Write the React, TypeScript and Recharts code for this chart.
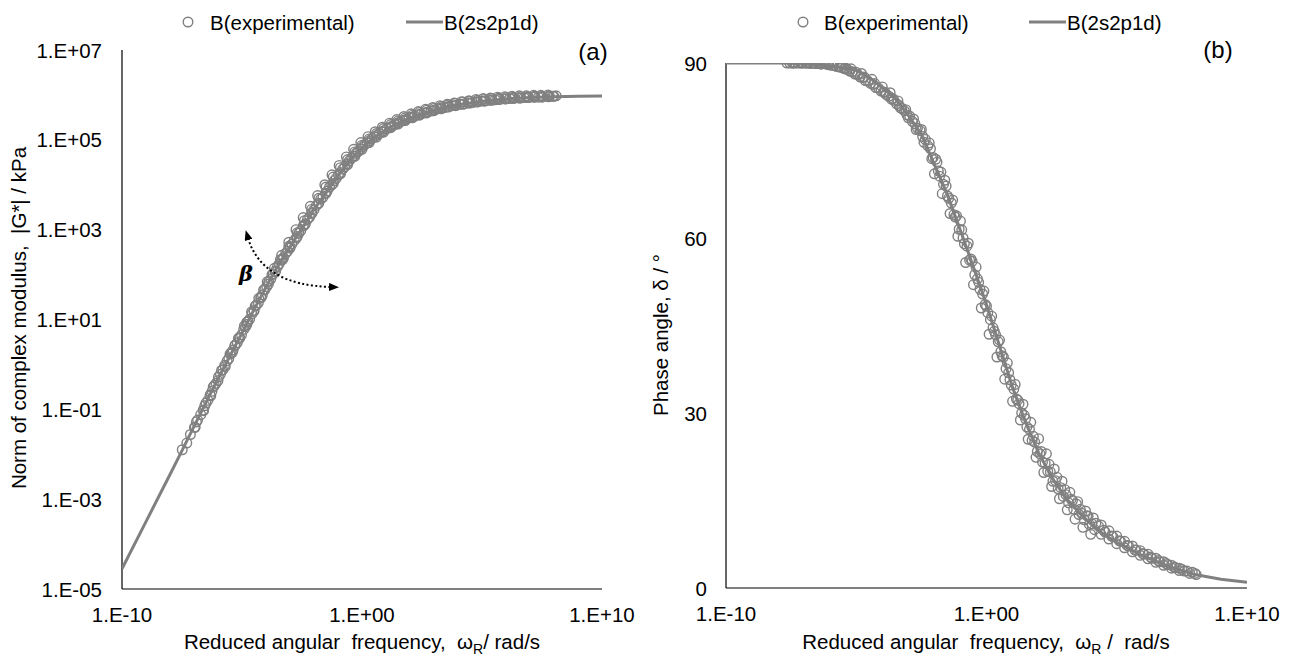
import React from 'react';
import { ScatterChart, Scatter, XAxis, YAxis } from 'recharts';

const FONT = '"Liberation Sans", Arial, sans-serif';
const GREY = '#808080';
const INK = '#000000';
const FS = 20.5;

// ---------- tick positions / labels (axes carry log10 values for log axes) ----------
const freqTicks = [-10, 0, 10];
const freqTickLabels = ['1.E-10', '1.E+00', '1.E+10'];
const modulusTicks = [-5, -3, -1, 1, 3, 5, 7];
const modulusTickLabels = ['1.E-05', '1.E-03', '1.E-01', '1.E+01', '1.E+03', '1.E+05', '1.E+07'];
const phaseTicks = [0, 30, 60, 90];
const phaseTickLabels = ['0', '30', '60', '90'];

// ---------- (a) |G*| : [log10 omega_R, log10 |G*| (kPa)] ----------
const modulusModel: [number, number][] = [
  [-10, -4.55], [-9, -3.5], [-8, -2.45], [-7.5, -1.92], [-7, -1.38], [-6, -0.32], [-5, 0.7],
  [-4.5, 1.22], [-4, 1.72], [-3.5, 2.2], [-3, 2.62], [-2.5, 3.03], [-2, 3.45], [-1.5, 3.82],
  [-1, 4.2], [-0.5, 4.55], [0, 4.82], [0.5, 5.05], [1, 5.23], [1.5, 5.37], [2, 5.49],
  [2.5, 5.58], [3, 5.66], [3.5, 5.73], [4, 5.78], [5, 5.86], [6, 5.91], [7, 5.94],
  [8, 5.96], [9, 5.97], [10, 5.975],
];

const modulusExperimentalA: [number, number][] = [
  [-7.49, -1.9], [-7.15, -1.56], [-6.98, -1.4], [-6.85, -1.24], [-6.72, -1.12], [-6.62, -1.02],
  [-6.5, -0.86], [-6.42, -0.8], [-6.33, -0.68], [-6.25, -0.6], [-6.15, -0.47], [-6.08, -0.42],
  [-5.98, -0.28], [-5.9, -0.22], [-5.8, -0.12], [-5.72, -0.02], [-5.62, 0.08], [-5.55, 0.13],
  [-5.45, 0.26], [-5.37, 0.32], [-5.28, 0.43], [-5.2, 0.48], [-5.1, 0.6], [-5.02, 0.66],
  [-4.93, 0.78], [-4.85, 0.84], [-4.75, 0.96], [-4.68, 1.01], [-4.58, 1.13], [-4.5, 1.2],
  [-4.4, 1.32], [-4.32, 1.37], [-4.22, 1.5], [-4.15, 1.55], [-4.05, 1.66], [-3.97, 1.73],
  [-3.88, 1.85], [-3.8, 1.9], [-3.7, 2.01], [-3.62, 2.06], [-3.52, 2.18], [-3.45, 2.24],
  [-3.35, 2.32], [-3.27, 2.38], [-3.18, 2.47], [-3.1, 2.52], [-3.0, 2.62], [-2.92, 2.68],
  [-2.82, 2.76], [-2.73, 2.82], [-2.63, 2.92], [-2.55, 2.98], [-2.45, 3.08], [-2.36, 3.13],
  [-2.27, 3.23], [-2.18, 3.28], [-2.08, 3.38], [-2.0, 3.44], [-1.9, 3.54], [-1.82, 3.58],
  [-1.72, 3.68], [-1.63, 3.72], [-1.53, 3.81], [-1.45, 3.86], [-1.35, 3.95], [-1.26, 4.0],
  [-1.16, 4.09], [-1.08, 4.14], [-0.98, 4.22], [-0.9, 4.27], [-0.8, 4.35], [-0.72, 4.4],
  [-0.62, 4.47], [-0.53, 4.53], [-0.43, 4.6], [-0.35, 4.64], [-0.25, 4.7], [-0.16, 4.74],
  [-0.06, 4.8], [0.03, 4.85], [0.13, 4.9], [0.22, 4.93], [0.32, 4.98], [0.42, 5.03],
  [0.52, 5.07], [0.62, 5.1], [0.72, 5.14], [0.83, 5.18], [0.93, 5.21], [1.04, 5.25],
  [1.15, 5.28], [1.26, 5.31], [1.37, 5.34], [1.49, 5.38], [1.6, 5.4], [1.72, 5.43],
  [1.84, 5.46], [1.96, 5.49], [2.08, 5.51], [2.2, 5.53], [2.33, 5.56], [2.46, 5.58],
  [2.6, 5.6], [2.73, 5.62], [2.87, 5.64], [3.0, 5.66], [3.15, 5.69], [3.3, 5.71],
  [3.45, 5.72], [3.6, 5.74], [3.76, 5.76], [3.92, 5.77], [4.08, 5.79], [4.25, 5.8],
  [4.42, 5.82], [4.6, 5.83], [4.78, 5.85], [4.96, 5.86], [5.15, 5.87], [5.35, 5.88],
  [5.55, 5.89], [5.75, 5.9], [5.95, 5.91], [6.15, 5.92], [6.35, 5.93], [6.55, 5.93],
  [6.75, 5.94], [6.95, 5.94], [7.15, 5.95], [7.35, 5.95], [7.55, 5.96], [7.75, 5.96],
  [7.95, 5.97], [8.09, 5.98],
];

const modulusExperimentalB: [number, number][] = [
  [-6.9, -1.28], [-6.55, -0.92], [-6.2, -0.5], [-5.85, -0.13], [-5.5, 0.23], [-5.15, 0.58],
  [-4.8, 0.94], [-4.45, 1.3], [-4.1, 1.66], [-3.75, 2.0], [-3.4, 2.33], [-3.05, 2.63],
  [-2.7, 2.93], [-2.4, 3.2], [-2.1, 3.45], [-1.8, 3.7], [-1.5, 3.95], [-1.2, 4.17],
  [-0.9, 4.38], [-0.6, 4.56], [-0.3, 4.73], [0.0, 4.88], [0.3, 5.02], [0.6, 5.14],
  [0.9, 5.25], [1.2, 5.34], [1.5, 5.42], [1.8, 5.49], [2.1, 5.55], [2.4, 5.61],
  [2.7, 5.66], [3.0, 5.7], [3.3, 5.74], [3.6, 5.78], [3.9, 5.81], [4.2, 5.84],
  [4.5, 5.86], [4.8, 5.88], [5.1, 5.9], [5.4, 5.92], [5.7, 5.93], [6.0, 5.94],
  [6.3, 5.95], [6.6, 5.96], [6.9, 5.96], [7.2, 5.97], [7.5, 5.97], [7.8, 5.98],
];

const modulusExperimentalC: [number, number][] = [
  [-7.3, -1.75], [-6.95, -1.4], [-6.6, -1.03], [-6.3, -0.7], [-6.0, -0.36], [-5.7, -0.05],
  [-5.4, 0.27], [-5.1, 0.58], [-4.8, 0.89], [-4.5, 1.19], [-4.2, 1.49], [-3.9, 1.79],
  [-3.6, 2.08], [-3.3, 2.34], [-3.0, 2.59], [-2.7, 2.85], [-2.4, 3.1], [-2.1, 3.36],
  [-1.8, 3.59], [-1.5, 3.81], [-1.2, 4.03], [-0.9, 4.24], [-0.6, 4.45], [-0.3, 4.63],
  [0.0, 4.79], [0.3, 4.94], [0.6, 5.06], [0.9, 5.17], [1.2, 5.27], [1.5, 5.35], [1.8, 5.43],
  [2.1, 5.49], [2.4, 5.55], [2.7, 5.6], [3.0, 5.65], [3.3, 5.69], [3.6, 5.73], [3.9, 5.76],
  [4.2, 5.79], [4.5, 5.82], [4.8, 5.84], [5.1, 5.86], [5.4, 5.88], [5.7, 5.9], [6.0, 5.91],
  [6.3, 5.92], [6.6, 5.93], [6.9, 5.94], [7.2, 5.95], [7.5, 5.95], [7.8, 5.96], [8.0, 5.97],
];

const modulusExperimentalD: [number, number][] = [
  [-5.3, 0.42], [-4.9, 0.86], [-4.6, 1.17], [-4.3, 1.47], [-3.95, 1.84], [-3.65, 2.14],
  [-3.35, 2.43], [-3.05, 2.72], [-2.75, 3.0], [-2.45, 3.27], [-2.15, 3.52], [-1.85, 3.76],
  [-1.55, 4.0], [-1.25, 4.22], [-0.95, 4.43], [-0.65, 4.62], [-0.35, 4.79], [-0.05, 4.94],
  [0.25, 5.07], [0.55, 5.18], [0.85, 5.28], [1.15, 5.37], [1.45, 5.45], [1.75, 5.52],
  [2.05, 5.58], [2.35, 5.63], [2.65, 5.68], [2.95, 5.72], [3.25, 5.76], [3.55, 5.79],
  [3.85, 5.82], [4.15, 5.85], [4.45, 5.87], [4.75, 5.9], [5.05, 5.92], [5.35, 5.93],
  [5.65, 5.95], [5.95, 5.96], [6.25, 5.97], [6.55, 5.98], [6.85, 5.98], [7.15, 5.99],
  [7.45, 5.99], [7.75, 6.0],
];

// ---------- (b) phase angle : [log10 omega_R, delta (deg)] ----------
const phaseModel: [number, number][] = [
  [-10, 90], [-8, 90], [-7, 89.9], [-6, 89.5], [-5, 88.8], [-4.5, 87.5], [-4, 85.8],
  [-3.5, 83.9], [-3, 81.0], [-2.5, 77.8], [-2, 72.6], [-1.5, 67.4], [-1, 61.3], [-0.5, 55.0],
  [0, 48.6], [0.5, 41.5], [1, 34.4], [1.5, 28.4], [2, 23.2], [2.5, 19.0], [3, 15.7],
  [3.5, 13.2], [4, 11.0], [4.5, 9.2], [5, 7.8], [6, 5.5], [7, 3.7], [8, 2.3], [9, 1.5], [10, 1.0],
];

const phaseExperimentalA: [number, number][] = [
  [-7.66, 90], [-7.55, 90], [-7.45, 90], [-7.35, 90], [-7.25, 90], [-7.15, 90], [-7.05, 90],
  [-6.95, 90], [-6.85, 90], [-6.75, 89.9], [-6.65, 90], [-6.55, 89.9], [-6.45, 89.9],
  [-6.35, 89.8], [-6.25, 89.9], [-6.15, 89.8], [-6.05, 89.7], [-5.95, 89.6], [-5.85, 89.6],
  [-5.75, 89.4], [-5.65, 89.3], [-5.55, 89.2], [-5.45, 89.0], [-5.35, 88.9], [-5.25, 88.6],
  [-5.15, 88.5], [-5.05, 88.1], [-4.95, 88.0], [-4.85, 87.6], [-4.75, 87.5], [-4.65, 87.0],
  [-4.55, 86.9], [-4.45, 86.5], [-4.35, 86.3], [-4.25, 85.8], [-4.15, 85.7], [-4.05, 85.2],
  [-3.95, 85.0], [-3.85, 84.6], [-3.75, 84.3], [-3.65, 83.8], [-3.55, 83.6], [-3.45, 83.0],
  [-3.35, 82.7], [-3.25, 82.2], [-3.15, 81.8], [-3.05, 81.1], [-2.95, 80.9], [-2.85, 80.0],
  [-2.75, 79.6], [-2.65, 78.8], [-2.55, 78.4], [-2.45, 77.4], [-2.35, 76.9], [-2.25, 75.8],
  [-2.15, 75.3], [-2.05, 73.8], [-1.95, 73.5], [-1.85, 71.5], [-1.75, 71.3], [-1.65, 69.2],
  [-1.55, 68.9], [-1.45, 66.8], [-1.35, 66.0], [-1.25, 64.0], [-1.15, 63.8], [-1.05, 61.5],
  [-0.95, 61.4], [-0.85, 59.0], [-0.75, 58.6], [-0.65, 56.2], [-0.55, 56.0], [-0.45, 53.7],
  [-0.35, 53.0], [-0.25, 51.2], [-0.15, 50.4], [-0.05, 48.6], [0.05, 47.2], [0.15, 46.0],
  [0.25, 44.6], [0.35, 43.4], [0.45, 42.2], [0.55, 40.5], [0.65, 39.6], [0.75, 37.6],
  [0.85, 36.9], [0.95, 34.8], [1.05, 34.1], [1.15, 32.4], [1.25, 31.6], [1.35, 30.0],
  [1.45, 29.6], [1.55, 27.6], [1.65, 27.2], [1.75, 25.3], [1.85, 25.0], [1.95, 23.4],
  [2.05, 23.0], [2.15, 21.6], [2.25, 21.4], [2.35, 20.0], [2.45, 19.9], [2.55, 18.3],
  [2.65, 18.4], [2.75, 17.0], [2.85, 17.2], [2.95, 15.7], [3.05, 16.0], [3.15, 14.6],
  [3.25, 15.2], [3.35, 13.5], [3.45, 14.4], [3.55, 12.6], [3.65, 12.8], [3.75, 11.7],
  [3.85, 12.4], [3.95, 10.9], [4.05, 11.0], [4.15, 10.0], [4.3, 10.6], [4.4, 9.2],
  [4.55, 9.6], [4.7, 8.4], [4.85, 8.8], [5.0, 7.6], [5.15, 8.0], [5.3, 6.9], [5.45, 7.2],
  [5.6, 6.2], [5.75, 6.5], [5.9, 5.6], [6.05, 5.8], [6.2, 5.0], [6.35, 5.1], [6.5, 4.4],
  [6.65, 4.5], [6.8, 3.9], [6.95, 4.0], [7.1, 3.4], [7.25, 3.5], [7.4, 3.0], [7.6, 2.9],
  [7.8, 2.5], [8.05, 2.3],
];

const phaseExperimentalB: [number, number][] = [
  [-7.1, 90], [-6.6, 90], [-6.1, 89.9], [-5.6, 89.5], [-5.2, 89.0], [-4.8, 88.2], [-4.4, 87.2],
  [-4.0, 85.9], [-3.7, 84.9], [-3.4, 83.5], [-3.1, 82.0], [-2.8, 80.4], [-2.5, 78.6],
  [-2.2, 76.3], [-1.9, 73.0], [-1.6, 69.9], [-1.3, 66.5], [-1.0, 62.9], [-0.7, 59.1],
  [-0.4, 55.0], [-0.1, 50.9], [0.2, 46.6], [0.5, 42.5], [0.8, 38.6], [1.1, 34.9], [1.4, 31.5],
  [1.7, 28.4], [2.0, 25.6], [2.3, 23.0], [2.6, 20.4], [2.9, 18.3], [3.2, 16.4], [3.5, 14.8],
  [3.8, 13.2], [4.1, 12.0], [4.4, 10.8], [4.7, 9.8], [5.0, 8.9], [5.3, 8.0], [5.6, 7.2],
  [5.9, 6.4], [6.2, 5.8], [6.5, 5.1], [6.8, 4.5], [7.1, 3.9], [7.4, 3.4], [7.7, 2.9], [8.0, 2.5],
];

const phaseExperimentalC: [number, number][] = [
  [-2.0, 71.0], [-1.7, 67.6], [-1.4, 64.2], [-1.1, 60.3], [-0.8, 55.8], [-0.5, 52.0],
  [-0.2, 48.0], [0.1, 43.5], [0.4, 39.6], [0.7, 35.8], [1.0, 32.0], [1.3, 28.8], [1.6, 25.5],
  [1.9, 22.4], [2.2, 19.8], [2.5, 17.4], [2.8, 15.3], [3.1, 13.4], [3.4, 11.8], [3.7, 10.4],
  [4.0, 9.2],
];

const phaseExperimentalD: [number, number][] = [
  [-7.4, 90], [-6.9, 90], [-6.4, 89.9], [-5.9, 89.7], [-5.4, 89.1], [-5.0, 88.4], [-4.7, 87.6],
  [-4.3, 86.5], [-3.9, 85.0], [-3.6, 83.9], [-3.3, 82.3], [-3.0, 80.6], [-2.7, 78.6],
  [-2.4, 76.4], [-2.1, 73.6], [-1.8, 70.6], [-1.5, 67.2], [-1.2, 63.6], [-0.9, 60.0],
  [-0.6, 56.4], [-0.3, 52.4], [0.0, 48.3], [0.3, 44.0], [0.6, 39.8], [0.9, 35.7], [1.2, 32.2],
  [1.5, 29.0], [1.8, 26.0], [2.1, 23.4], [2.4, 21.2], [2.7, 19.0], [3.0, 16.9], [3.3, 15.0],
  [3.6, 13.5], [3.9, 12.3], [4.2, 11.1], [4.5, 9.9], [4.8, 8.9], [5.1, 8.1], [5.4, 7.3],
  [5.7, 6.5], [6.0, 5.9], [6.3, 5.3], [6.6, 4.7], [6.9, 4.2], [7.2, 3.6], [7.5, 3.2], [7.9, 2.7],
];

const toPoints = (rows: [number, number][]) => rows.map(([x, y]) => ({ x, y }));

const hollowCircle = (p: any) => (
  <circle cx={p.cx} cy={p.cy} r={4.8} fill="none" stroke={GREY} strokeWidth={1.4} />
);
const noShape = () => <g />;

const makeXTick = (ticks: number[], labels: string[]) => (p: any) => {
  const i = ticks.indexOf(p.payload.value);
  return (
    <text x={p.x} y={p.y} dy={33} textAnchor="middle" fontFamily={FONT} fontSize={FS} fill={INK}>
      {labels[i]}
    </text>
  );
};

const makeYTick = (ticks: number[], labels: string[], gap: number) => (p: any) => {
  const i = ticks.indexOf(p.payload.value);
  return (
    <text x={p.x - gap} y={p.y} dy={7.5} textAnchor="end" fontFamily={FONT} fontSize={FS} fill={INK}>
      {labels[i]}
    </text>
  );
};

const LegendRow = ({ cx, textX, lineX1, lineX2, modelX }: any) => (
  <g fontFamily={FONT} fontSize={FS} fill={INK}>
    <circle cx={cx} cy={22} r={4.8} fill="none" stroke={GREY} strokeWidth={1.4} />
    <text x={textX} y={29.5}>B(experimental)</text>
    <line x1={lineX1} y1={22} x2={lineX2} y2={22} stroke={GREY} strokeWidth={3} />
    <text x={modelX} y={29.5}>B(2s2p1d)</text>
  </g>
);

const axisCommon = {
  type: 'number' as const,
  interval: 0 as const,
  allowDataOverflow: true,
  tickLine: false,
  tickSize: 0,
  tickMargin: 0,
  axisLine: { stroke: INK, strokeWidth: 1.2 },
};

const expSeries = (sets: [number, number][][]) =>
  sets.map((s, i) => (
    <Scatter key={i} data={toPoints(s)} shape={hollowCircle} isAnimationActive={false} />
  ));

export default function App() {
  return (
    <div style={{ position: 'absolute', left: 0, top: 0, width: 1291, height: 657, background: '#fff' }}>
      {/* (a) complex modulus */}
      <div style={{ position: 'absolute', left: 0, top: 0 }}>
        <ScatterChart width={645} height={657} margin={{ top: 50, right: 43, bottom: 0, left: 0 }}>
          <XAxis
            {...axisCommon}
            dataKey="x"
            domain={[-10, 10]}
            ticks={freqTicks}
            height={68}
            tick={makeXTick(freqTicks, freqTickLabels)}
          />
          <YAxis
            {...axisCommon}
            dataKey="y"
            domain={[-5, 7]}
            ticks={modulusTicks}
            width={122}
            tick={makeYTick(modulusTicks, modulusTickLabels, 20)}
          />
          {expSeries([modulusExperimentalA, modulusExperimentalB, modulusExperimentalC, modulusExperimentalD])}
          <Scatter
            data={toPoints(modulusModel)}
            line={{ stroke: GREY, strokeWidth: 3 }}
            lineType="joint"
            shape={noShape}
            isAnimationActive={false}
          />
        </ScatterChart>
      </div>

      {/* (b) phase angle */}
      <div style={{ position: 'absolute', left: 645, top: 0 }}>
        <ScatterChart width={646} height={657} margin={{ top: 63, right: 44, bottom: 0, left: 0 }}>
          <XAxis
            {...axisCommon}
            dataKey="x"
            domain={[-10, 10]}
            ticks={freqTicks}
            height={69}
            tick={makeXTick(freqTicks, freqTickLabels)}
          />
          <YAxis
            {...axisCommon}
            dataKey="y"
            domain={[0, 90]}
            ticks={phaseTicks}
            width={81}
            tick={makeYTick(phaseTicks, phaseTickLabels, 19)}
          />
          {expSeries([phaseExperimentalA, phaseExperimentalB, phaseExperimentalC, phaseExperimentalD])}
          <Scatter
            data={toPoints(phaseModel)}
            line={{ stroke: GREY, strokeWidth: 3 }}
            lineType="joint"
            shape={noShape}
            isAnimationActive={false}
          />
        </ScatterChart>
      </div>

      {/* legends, titles, annotations */}
      <svg
        width={1291}
        height={657}
        style={{ position: 'absolute', left: 0, top: 0, pointerEvents: 'none', overflow: 'visible' }}
      >
        <defs>
          <marker id="arrowHead" viewBox="0 0 10 8" refX={2} refY={4} markerWidth={10} markerHeight={8}
            markerUnits="userSpaceOnUse" orient="auto-start-reverse">
            <path d="M0,0 L10,4 L0,8 z" fill={INK} />
          </marker>
        </defs>

        <LegendRow cx={188} textX={210} lineX1={406} lineX2={443} modelX={444} />
        <LegendRow cx={803} textX={824} lineX1={1029} lineX2={1066} modelX={1067} />

        <text x={593} y={60} textAnchor="middle" fontFamily={FONT} fontSize={24} fill={INK}>(a)</text>
        <text x={1218} y={58} textAnchor="middle" fontFamily={FONT} fontSize={24} fill={INK}>(b)</text>

        <g fontFamily={FONT} fontSize={FS} fill={INK}>
          <text x={362} y={649} textAnchor="middle" xmlSpace="preserve">
            {'Reduced angular  frequency,  ω'}
            <tspan dy={5} fontSize={14}>R</tspan>
            <tspan dy={-5}>{'/ rad/s'}</tspan>
          </text>
          <text x={986} y={649} textAnchor="middle" xmlSpace="preserve">
            {'Reduced angular  frequency,  ω'}
            <tspan dy={5} fontSize={14}>R</tspan>
            <tspan dy={-5}>{' /  rad/s'}</tspan>
          </text>
          <text transform="translate(26,318) rotate(-90)" textAnchor="middle" xmlSpace="preserve">
            {'Norm of complex modulus,  |G*| / kPa'}
          </text>
          <text transform="translate(668,335) rotate(-90)" textAnchor="middle">
            {'Phase angle, δ / °'}
          </text>
        </g>

        <path
          d="M248,238 Q262,285 331,287"
          fill="none"
          stroke={INK}
          strokeWidth={2}
          strokeDasharray="2 2.4"
          markerStart="url(#arrowHead)"
          markerEnd="url(#arrowHead)"
        />
        <text x={246} y={281} textAnchor="middle" fontFamily='"DejaVu Serif", serif' fontStyle="italic"
          fontWeight="bold" fontSize={21} fill={INK}>β</text>
      </svg>
    </div>
  );
}
